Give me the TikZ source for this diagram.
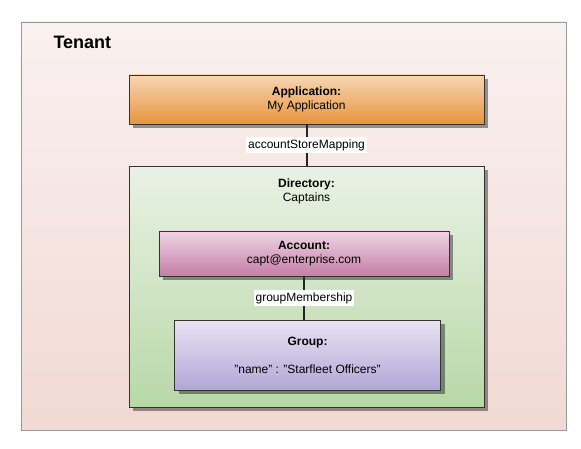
\documentclass[tikz,border=0pt]{standalone}
\usepackage{fontspec}
\setmainfont{Liberation Sans}
\usetikzlibrary{shadows,positioning}

\definecolor{tenantTop}{HTML}{F9F1F0}
\definecolor{tenantBot}{HTML}{F2D9D3}
\definecolor{appTop}{HTML}{F6D6B4}
\definecolor{appBot}{HTML}{E8953D}
\definecolor{dirTop}{HTML}{E9F2E5}
\definecolor{dirBot}{HTML}{B8D8A7}
\definecolor{accTop}{HTML}{EED5E4}
\definecolor{accBot}{HTML}{C57EA7}
\definecolor{grpTop}{HTML}{E8E4F4}
\definecolor{grpBot}{HTML}{B1A7D6}

\tikzset{
  txt/.style={font=\fontsize{12}{14}\selectfont, align=center},
  box/.style={rectangle, draw=black!80, line width=0.9pt, inner sep=0pt, txt,
    drop shadow={shadow xshift=4pt, shadow yshift=-4pt, fill=black, opacity=0.4}},
  link/.style={draw=black!85, line width=2pt},
  linklabel/.style={fill=white, inner sep=2pt, txt}
}

\begin{document}
\begin{tikzpicture}[x=1pt,y=-1pt]
   \fill[white] (0,0) rectangle (581,449);
   \useasboundingbox (0,0) rectangle (581,449);

   % tenant
   \node[rectangle, draw=black!40, line width=0.6pt, top color=tenantTop, bottom color=tenantBot,
     minimum width=545pt, minimum height=408pt] (tenant) at (293.5,226) {};
   \node[anchor=west, font=\fontsize{18}{20}\selectfont\bfseries] (tenanttitle) at (50,42) {Tenant};

   % application
   \node[box, top color=appTop, bottom color=appBot, minimum width=355pt, minimum height=49pt]
     (app) at (306.5,99.5) {\textbf{Application:}\\My Application};

   % directory
   \node[box, top color=dirTop, bottom color=dirBot, minimum width=355pt, minimum height=241pt]
     (dir) at (306.5,286.5) {};
   \node[txt] (dirtitle) at (306.5,191) {\textbf{Directory:}\\Captains};

   % account and group
   \node[box, top color=accTop, bottom color=accBot, minimum width=290pt, minimum height=45pt]
     (acc) at (304,253.5) {\textbf{Account:}\\capt@enterprise.com};
   \node[box, top color=grpTop, bottom color=grpBot, minimum width=266pt, minimum height=70pt]
     (grp) at (307.5,355) {\textbf{Group:}\\[14pt]"name" : "Starfleet Officers"};

   \draw[link] (app) -- (dir) node[linklabel, midway] (asm) {accountStoreMapping};
   \draw[link] (acc) -- (acc |- grp.north) node[linklabel, midway] (gm) {groupMembership};

\end{tikzpicture}
\end{document}
